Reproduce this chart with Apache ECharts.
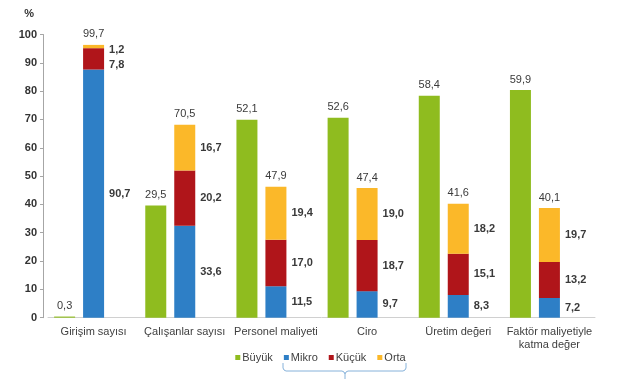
<!DOCTYPE html>
<html>
<head>
<meta charset="utf-8">
<script src="https://cdn.jsdelivr.net/npm/echarts@6/dist/echarts.min.js"></script>
<style>
html,body{margin:0;padding:0;background:#fff;}
#c{width:641px;height:380px;}
</style>
</head>
<body>
<div id="c"></div>
<script>
const categories = ['Girişim sayısı', 'Çalışanlar sayısı', 'Personel maliyeti', 'Ciro', 'Üretim değeri', 'Faktör maliyetiyle\nkatma değer'];
const buyuk = [0.3, 29.5, 52.1, 52.6, 58.4, 59.9];
const mikro = [90.7, 33.6, 11.5, 9.7, 8.3, 7.2];
const kucuk = [7.8, 20.2, 17.0, 18.7, 15.1, 13.2];
const orta = [1.2, 16.7, 19.4, 19.0, 18.2, 19.7];
const toplam = [99.7, 70.5, 47.9, 47.4, 41.6, 40.1];
const seriesNames = ['Büyük', 'Mikro', 'Küçük', 'Orta'];

const fmt = v => Number(v).toFixed(1).replace('.', ',');
const FONT = 'Liberation Sans, Arial, sans-serif';
const colors = {'Büyük': '#8fbc1f', 'Mikro': '#2e7fc6', 'Küçük': '#b0151a', 'Orta': '#fbb829'};

const chart = echarts.init(document.getElementById('c'), null, {renderer: 'canvas'});

function segLabel() {
  return {
    show: true, position: 'right', distance: 5,
    fontFamily: FONT, fontSize: 11, fontWeight: 'bold', color: '#3a3a3a',
    formatter: p => fmt(p.value)
  };
}
function withOffsets(arr, offsets) {
  return arr.map((v, i) => offsets[i] ? {value: v, label: {offset: offsets[i]}} : v);
}

const option = {
  animation: false,
  backgroundColor: '#fff',
  grid: {left: 48, right: 46, top: 34.5, bottom: 62.3, containLabel: false},
  legend: {
    data: seriesNames,
    top: 347, left: 'center',
    icon: 'rect', itemWidth: 5, itemHeight: 5, itemGap: 11,
    textStyle: {fontFamily: FONT, fontSize: 11, color: '#404040', padding: [0, 0, 0, -3]}
  },
  xAxis: {
    type: 'category', data: categories,
    axisLine: {show: true, lineStyle: {color: '#d0d0d0'}},
    axisTick: {show: false},
    axisLabel: {fontFamily: FONT, fontSize: 11, color: '#404040', margin: 8, lineHeight: 13, interval: 0}
  },
  yAxis: [
    {
      type: 'value', min: 0, max: 100, interval: 10, offset: 5,
      name: '%', nameLocation: 'end', nameGap: 15,
      nameTextStyle: {fontFamily: FONT, fontSize: 11, fontWeight: 'bold', color: '#333', align: 'right', padding: [0, 9, 0, 0]},
      axisLine: {show: true, lineStyle: {color: '#a6a6a6'}},
      axisTick: {show: true, length: 3, lineStyle: {color: '#a6a6a6'}},
      splitLine: {show: false},
      axisLabel: {fontFamily: FONT, fontSize: 11, fontWeight: 'bold', color: '#333', margin: 6}
    },
    {type: 'value', min: 0, max: 103.5, show: false, splitLine: {show: false}},
    {type: 'value', min: 0, max: 74.5, show: false, splitLine: {show: false}}
  ],
  series: [
    {
      name: 'Büyük', type: 'bar', stack: 'a', yAxisIndex: 2, data: buyuk,
      barWidth: 21, barGap: '38%',
      itemStyle: {color: colors['Büyük']},
      label: {show: true, position: 'top', distance: 5, fontFamily: FONT, fontSize: 11, color: '#3a3a3a', formatter: p => fmt(p.value)}
    },
    {
      name: 'Mikro', type: 'bar', stack: 'b', yAxisIndex: 1, data: mikro,
      barWidth: 21, barGap: '38%',
      itemStyle: {color: colors['Mikro']},
      label: segLabel()
    },
    {
      name: 'Küçük', type: 'bar', stack: 'b', yAxisIndex: 1,
      data: withOffsets(kucuk, {0: [0, 6]}),
      barWidth: 21, barGap: '38%',
      itemStyle: {color: colors['Küçük']},
      label: segLabel()
    },
    {
      name: 'Orta', type: 'bar', stack: 'b', yAxisIndex: 1,
      data: withOffsets(orta, {0: [0, 3]}),
      barWidth: 21, barGap: '38%',
      itemStyle: {color: colors['Orta']},
      label: segLabel()
    },
    {
      name: 'Toplam', type: 'bar', stack: 'b', yAxisIndex: 1,
      data: toplam.map(() => 0),
      barWidth: 21, barGap: '38%',
      itemStyle: {color: 'rgba(0,0,0,0)'},
      label: {show: true, position: 'top', distance: 5, fontFamily: FONT, fontSize: 11, color: '#3a3a3a',
        formatter: p => fmt(toplam[p.dataIndex])}
    },
    {
      name: 'bos', type: 'bar', stack: 'c', yAxisIndex: 1,
      data: categories.map(() => null),
      barWidth: 21, barGap: '38%'
    }
  ],
  graphic: [
    {
      type: 'polyline', silent: true,
      shape: {points: [[283, 363], [283, 368], [284, 370], [286, 371], [342, 371], [344, 372], [345, 374], [345, 379]]},
      style: {fill: null, stroke: '#86b2da', lineWidth: 1}
    },
    {
      type: 'polyline', silent: true,
      shape: {points: [[345, 374], [346, 372], [348, 371], [403, 371], [405, 370], [406, 368], [406, 363]]},
      style: {fill: null, stroke: '#86b2da', lineWidth: 1}
    }
  ]
};
chart.setOption(option);
</script>
</body>
</html>
